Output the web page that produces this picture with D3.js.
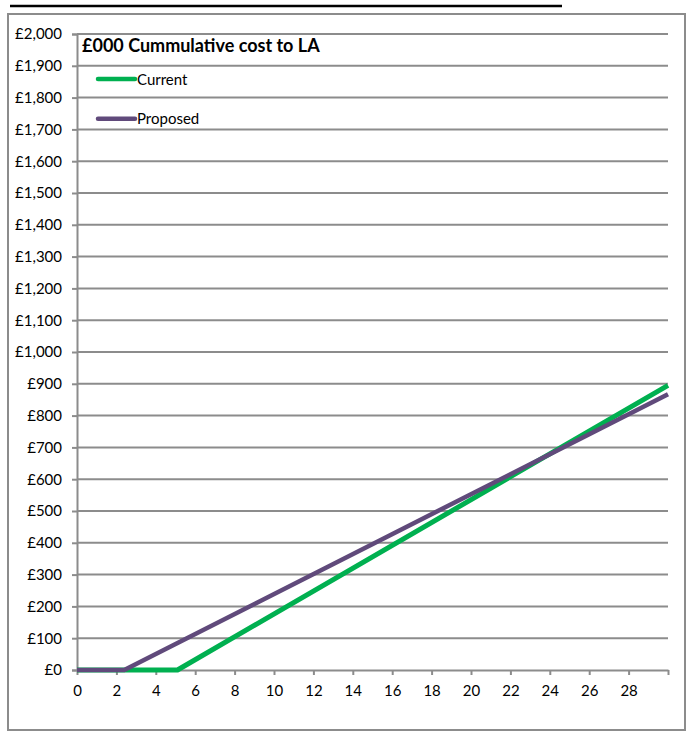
<!DOCTYPE html>
<html>
<head>
<meta charset="utf-8">
<script src="https://cdn.jsdelivr.net/npm/d3@7/dist/d3.min.js"></script>
<style>
  html, body { margin: 0; padding: 0; background: #fff; }
  svg { display: block; font-family: Lato, "Open Sans", sans-serif; }
</style>
</head>
<body>
<svg id="chart" width="688" height="734"></svg>
<script>
// Years along the x axis, labelled every two years
const xTickLabels = [0, 2, 4, 6, 8, 10, 12, 14, 16, 18, 20, 22, 24, 26, 28];
const xTickMarks = [0, 2, 4, 6, 8, 10, 12, 14, 16, 18, 20, 22, 24, 26, 28, 30];
// Cumulative cost (£000) gridlines
const yTicks = [0, 100, 200, 300, 400, 500, 600, 700, 800, 900, 1000,
                1100, 1200, 1300, 1400, 1500, 1600, 1700, 1800, 1900, 2000];

// Series: cumulative cost to LA
const seriesNames = ["Current", "Proposed"];
const currentYears = [0, 5.1, 30];
const currentCost = [0, 0, 895];
const proposedYears = [0, 2.4, 30];
const proposedCost = [0, 0, 867];

const colors = { Current: "#00b050", Proposed: "#604a7b" };
const widths = { Current: 5, Proposed: 4.5 };
const grey = "#8c8c8c";

const svg = d3.select("#chart");

// rule across the top of the page
svg.append("line")
  .attr("x1", 10).attr("x2", 562).attr("y1", 6).attr("y2", 6)
  .attr("stroke", "#000").attr("stroke-width", 2.5);

// chart frame
svg.append("rect")
  .attr("x", 8).attr("y", 14).attr("width", 677).attr("height", 716)
  .attr("fill", "#fff").attr("stroke", grey).attr("stroke-width", 2);

const plot = { left: 77, right: 668, top: 34, bottom: 670 };

const x = d3.scaleLinear().domain([0, 30]).range([plot.left, plot.right]);
const y = d3.scaleLinear().domain([0, 2000]).range([plot.bottom, plot.top]);

const fmt = v => "£" + d3.format(",")(v);

// horizontal gridlines
svg.append("g")
  .selectAll("line")
  .data(yTicks.filter(d => d > 0))
  .join("line")
  .attr("x1", plot.left).attr("x2", plot.right)
  .attr("y1", d => y(d)).attr("y2", d => y(d))
  .attr("stroke", grey).attr("stroke-width", 2);

// y axis
const yAxis = svg.append("g")
  .attr("transform", `translate(${plot.left},0)`)
  .call(d3.axisLeft(y).tickValues(yTicks).tickFormat(fmt).tickSize(5).tickPadding(10));
yAxis.select(".domain").attr("stroke", grey).attr("stroke-width", 2);
yAxis.selectAll(".tick line").attr("stroke", grey).attr("stroke-width", 2);
yAxis.selectAll(".tick text")
  .attr("fill", "#000").style("font-size", "15px").style("font-family", "Lato, sans-serif");

// x axis: tick marks every two years up to 30, labels to 28
const xAxis = svg.append("g")
  .attr("transform", `translate(0,${plot.bottom})`)
  .call(d3.axisBottom(x).tickValues(xTickMarks)
    .tickFormat(d => xTickLabels.includes(d) ? d : "")
    .tickSize(5).tickPadding(10).tickSizeOuter(0));
xAxis.select(".domain").attr("stroke", grey).attr("stroke-width", 2);
xAxis.selectAll(".tick line").attr("stroke", grey).attr("stroke-width", 2);
xAxis.selectAll(".tick text")
  .attr("fill", "#000").style("font-size", "15px").style("font-family", "Lato, sans-serif");

// series lines
const line = d3.line().x(d => x(d[0])).y(d => y(d[1]));
const series = [
  { name: "Current", pts: currentYears.map((v, i) => [v, currentCost[i]]) },
  { name: "Proposed", pts: proposedYears.map((v, i) => [v, proposedCost[i]]) }
];
svg.append("g")
  .selectAll("path")
  .data(series)
  .join("path")
  .attr("d", d => line(d.pts))
  .attr("fill", "none")
  .attr("stroke", d => colors[d.name])
  .attr("stroke-width", d => widths[d.name])
  .attr("stroke-linejoin", "round");

// title
svg.append("text")
  .attr("x", 82).attr("y", 52)
  .style("font-weight", "bold").style("font-size", "18px")
  .text("£000 Cummulative cost to LA");

// legend
const legend = svg.append("g")
  .selectAll("g")
  .data(seriesNames)
  .join("g")
  .attr("transform", (d, i) => `translate(98,${79 + i * 39.8})`);
legend.append("line")
  .attr("x1", 0).attr("x2", 37).attr("y1", 0).attr("y2", 0)
  .attr("stroke", d => colors[d]).attr("stroke-width", 4.5)
  .attr("stroke-linecap", "round");
legend.append("text")
  .attr("x", 39).attr("y", 5.5)
  .style("font-size", "15px")
  .text(d => d);
</script>
</body>
</html>
